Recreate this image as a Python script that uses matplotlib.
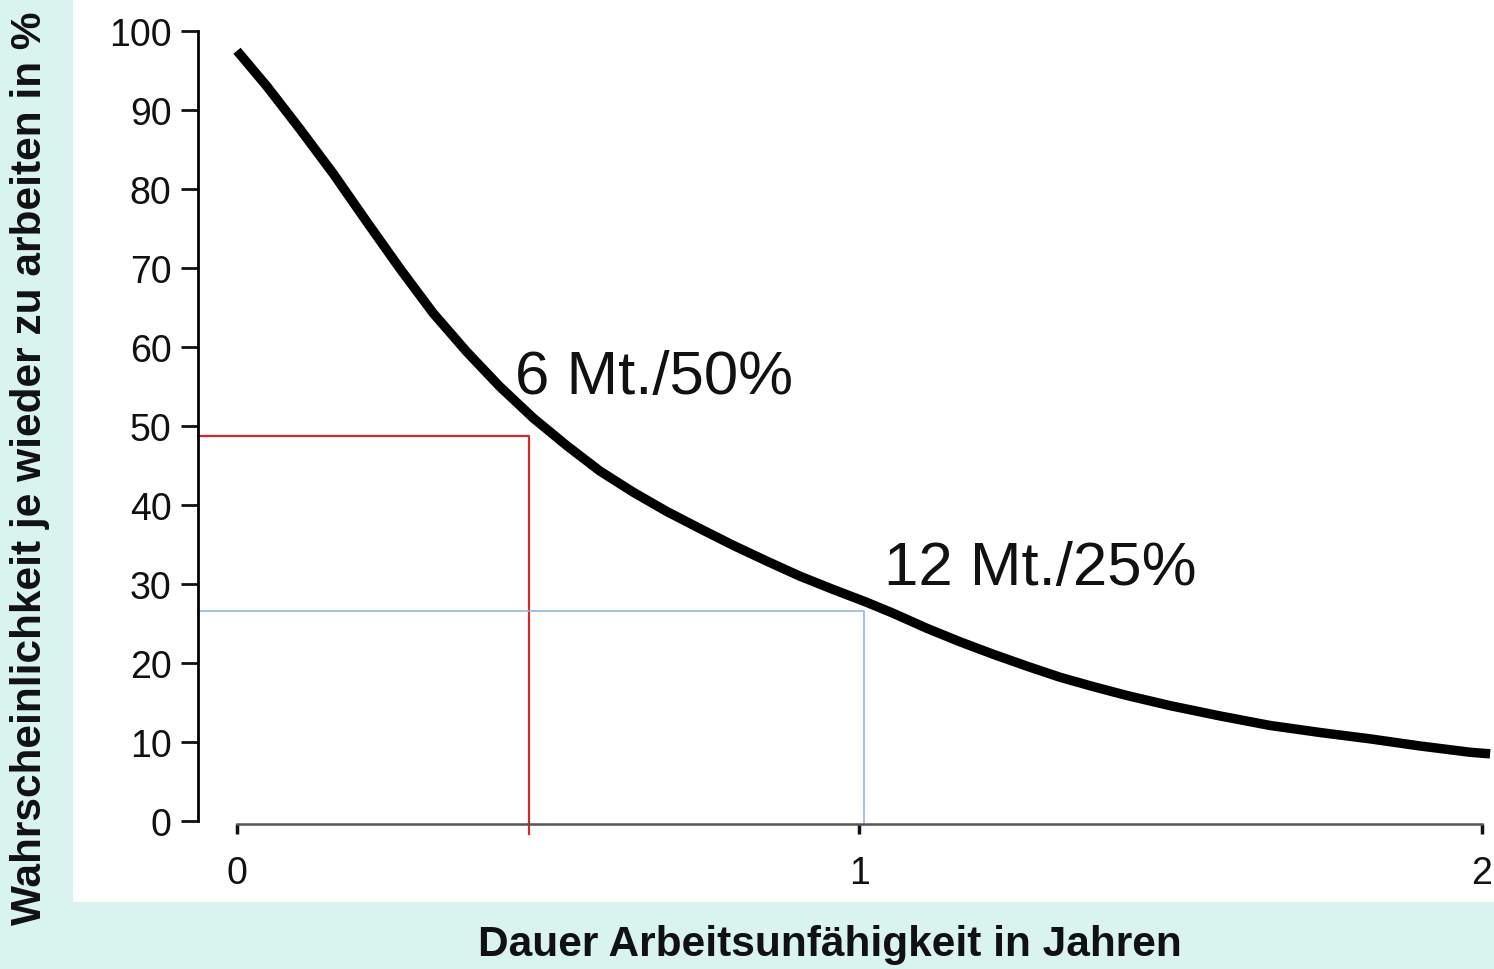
import matplotlib
matplotlib.use("Agg")
import matplotlib.pyplot as plt
import numpy as np

plt.rcParams['font.family'] = ['Liberation Sans', 'DejaVu Sans']

# Data
years = [0.0, 0.048, 0.101, 0.155, 0.208, 0.262, 0.315, 0.369, 0.422, 0.476,
         0.530, 0.583, 0.637, 0.690, 0.744, 0.797, 0.851, 0.904, 0.958, 1.011,
         1.054, 1.108, 1.161, 1.215, 1.269, 1.322, 1.376, 1.429, 1.499, 1.579,
         1.659, 1.740, 1.820, 1.900, 1.981, 2.013]
prob = [97.5, 93.0, 87.6, 81.9, 75.9, 69.9, 64.3, 59.4, 55.0, 51.0,
        47.5, 44.3, 41.6, 39.2, 37.0, 34.9, 32.9, 31.0, 29.3, 27.7,
        26.3, 24.4, 22.7, 21.1, 19.6, 18.2, 17.0, 15.9, 14.6, 13.3,
        12.1, 11.2, 10.4, 9.5, 8.7, 8.5]
marker6_x, marker6_y = 0.469, 48.7
marker12_x, marker12_y = 1.007, 26.6
ann_labels = ["6 Mt./50%", "12 Mt./25%"]
ann_pos = [(0.447, 56.2), (1.04, 32.0)]
yticks = [0, 10, 20, 30, 40, 50, 60, 70, 80, 90, 100]
xticks = [0, 1, 2]

W, H = 1494, 970
fig = plt.figure(figsize=(W / 100, H / 100), dpi=100)
fig.patch.set_facecolor('#d9f3ef')
# white panel
bg = fig.add_axes([73 / W, 1 - 903 / H, 1 - 73 / W, 903 / H], zorder=0)
bg.set_axis_off()
bg.add_artist(plt.Rectangle((0, 0), 1, 1, transform=bg.transAxes,
                            facecolor='white', edgecolor='none'))

left_px, right_px, top_px, bot_px = 198, 1494, 0, 840
ax = fig.add_axes([left_px / W, 1 - bot_px / H, (right_px - left_px) / W,
                   (bot_px - top_px) / H], zorder=1)
ax.set_facecolor('none')

# pixel mapping: x0=237 -> 0, 622.5 px per year ; y 822 -> 0, 7.9 px per unit
ax.set_xlim((left_px - 237) / 622.5, (right_px - 237) / 622.5)
ax.set_ylim((822 - bot_px) / 7.9, (822 - top_px) / 7.9)

ax.plot(years, prob, color='black', lw=6.8, solid_capstyle='butt',
        solid_joinstyle='round', zorder=3)

ybot_red = (822 - 835) / 7.9
ybot_blue = (822 - 826) / 7.9
xl = ax.get_xlim()[0]
ax.plot([xl, marker6_x, marker6_x], [marker6_y, marker6_y, ybot_red],
        color='#d62828', lw=1.6, zorder=2, clip_on=False)
ax.plot([xl, marker12_x, marker12_x], [marker12_y, marker12_y, ybot_blue],
        color='#93b6e2', lw=1.2, zorder=2, clip_on=False)

for lab, (tx, ty) in zip(ann_labels, ann_pos):
    ax.text(tx, ty, lab, fontsize=44.5, ha='left', va='center', color='#111111')

for s in ['top', 'right']:
    ax.spines[s].set_visible(False)
ax.spines['left'].set_bounds(0, 100)
ax.spines['left'].set_linewidth(2)
ax.spines['bottom'].set_position(('data', (822 - 825) / 7.9))
ax.spines['bottom'].set_bounds(0, 2)
ax.spines['bottom'].set_linewidth(1.8)
ax.spines['bottom'].set_color('#555555')

ax.set_yticks(yticks)
ax.set_yticklabels([str(v) for v in yticks])
ax.set_xticks(xticks)
ax.set_xticklabels([str(v) for v in xticks])
ax.tick_params(axis='y', length=12, width=2, pad=7, labelsize=27, colors='#111111')
ax.tick_params(axis='x', length=7, width=2.5, pad=15, labelsize=27, colors='#111111')

fig.text(830 / W, 1 - 945 / H, 'Dauer Arbeitsunfähigkeit in Jahren',
         ha='center', va='center', fontsize=30.5, fontweight='bold', color='#111111')
fig.text(30 / W, 1 - 468 / H, 'Wahrscheinlichkeit je wieder zu arbeiten in %',
         ha='center', va='center', rotation=90, fontsize=30.5, fontweight='bold',
         color='#111111')

fig.savefig('out.png', dpi=100, facecolor=fig.get_facecolor())
